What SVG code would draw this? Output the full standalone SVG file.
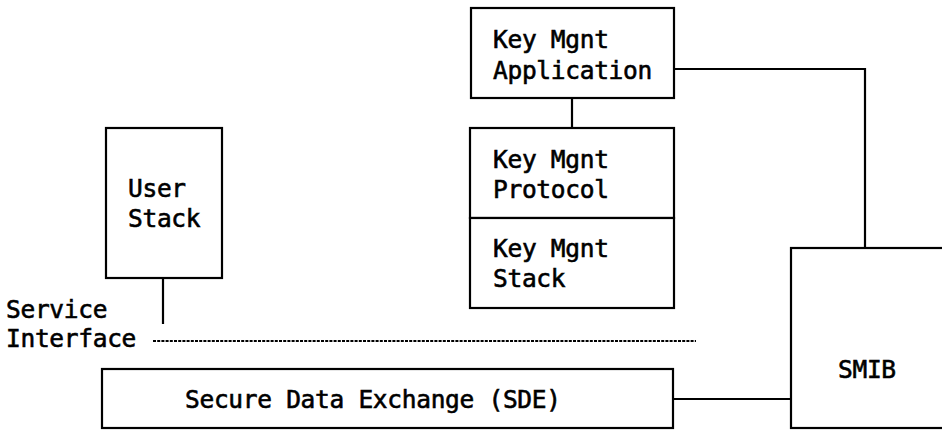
<svg xmlns="http://www.w3.org/2000/svg" width="942" height="430" viewBox="0 0 942 430">
  <style>
    .box { fill: #fff; stroke: #000; stroke-width: 2.2; }
    .wire { fill: none; stroke: #000; stroke-width: 2.2; }
    .dots { fill: none; stroke: #000; stroke-width: 1.8; stroke-dasharray: 3 1.2; }
    text { font-family: "DejaVu Sans Mono", "Liberation Mono", monospace; font-size: 24.5px; fill: #000; stroke: #000; stroke-width: 0.6; letter-spacing: -0.3px; }
  </style>
  <rect width="942" height="430" fill="#fff"/>

  <!-- connectors -->
  <g id="connectors">
    <line class="wire" x1="572" y1="98" x2="572" y2="128"/>
    <polyline class="wire" points="674,69 865,69 865,248"/>
    <line class="wire" x1="163" y1="278" x2="163" y2="324"/>
    <line class="wire" x1="673" y1="399" x2="791" y2="399"/>
    <line class="dots" x1="153" y1="341" x2="696" y2="341"/>
  </g>

  <g id="key-mgnt-application">
    <rect class="box" x="471" y="8" width="203" height="90"/>
    <text x="493" y="48">Key Mgnt</text>
    <text x="493" y="79">Application</text>
  </g>

  <g id="key-mgnt-protocol">
    <rect class="box" x="470" y="128" width="204" height="90"/>
    <text x="493" y="168">Key Mgnt</text>
    <text x="493" y="198">Protocol</text>
  </g>

  <g id="key-mgnt-stack">
    <rect class="box" x="470" y="218" width="204" height="90"/>
    <text x="493" y="257">Key Mgnt</text>
    <text x="493" y="287">Stack</text>
  </g>

  <g id="user-stack">
    <rect class="box" x="106" y="128" width="116" height="150"/>
    <text x="128" y="197">User</text>
    <text x="128" y="227">Stack</text>
  </g>

  <g id="service-interface">
    <text x="6" y="318">Service</text>
    <text x="6" y="347">Interface</text>
  </g>

  <g id="sde">
    <rect class="box" x="102" y="369" width="571" height="59"/>
    <text x="185" y="408">Secure Data Exchange (SDE)</text>
  </g>

  <g id="smib">
    <rect class="box" x="791" y="248" width="170" height="180"/>
    <text x="838" y="378">SMIB</text>
  </g>
</svg>
